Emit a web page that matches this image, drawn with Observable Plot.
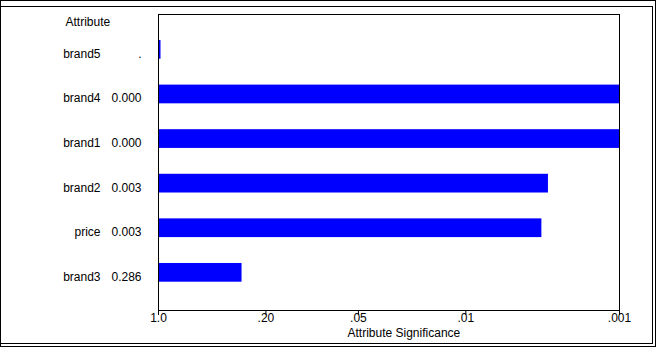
<!DOCTYPE html>
<html>
<head>
<meta charset="utf-8">
<script src="https://cdn.jsdelivr.net/npm/d3@7"></script>
<script src="https://cdn.jsdelivr.net/npm/@observablehq/plot@0.6"></script>
<style>
  body { margin: 0; background: white; }
  #wrap { position: relative; width: 656px; height: 347px; overflow: hidden; }
  .b1 { position: absolute; left: 0; top: 0; width: 656px; height: 347px; box-sizing: border-box; border: 1px solid black; pointer-events: none; }
  .b2 { position: absolute; left: 0; top: 6px; width: 653px; height: 338px; box-sizing: border-box; border: 1px solid black; pointer-events: none; }
</style>
</head>
<body>
<div id="wrap"><div class="b1"></div><div class="b2"></div></div>
<script>
const attributes = ["brand5", "brand4", "brand1", "brand2", "price", "brand3"];
const pValues = [null, 0.000, 0.000, 0.0029, 0.0032, 0.286];
const tickPValues = [1, 0.2, 0.05, 0.01, 0.001];
const tickLabels = ["1.0", ".20", ".05", ".01", ".001"];
const headerLabel = "Attribute";
const axisLabel = "Attribute Significance";

const sig = p => p == null ? null : Math.min(3, -Math.log10(Math.max(p, 1e-3)));
const rows = attributes.map((a, i) => ({
  attr: a,
  p: pValues[i],
  sig: sig(pValues[i]),
  label: pValues[i] == null ? "." : pValues[i].toFixed(3)
}));
const tickPos = tickPValues.map(p => -Math.log10(p));
const font = "'Liberation Sans', Arial, sans-serif";

const chart = Plot.plot({
  width: 656,
  height: 347,
  marginLeft: 158,
  marginRight: 37,
  marginTop: 14,
  marginBottom: 37,
  style: { fontFamily: font, fontSize: "12px", background: "transparent", color: "black" },
  x: { domain: [0, 3], ticks: tickPos, tickFormat: (d, i) => tickLabels[i] },
  y: { domain: attributes, paddingInner: 0.58, paddingOuter: 0, insetTop: 26, insetBottom: 28.3, round: false, axis: null },
  marks: [
    Plot.barX(rows.filter(d => d.sig != null), { x1: d => 0, x2: "sig", y: "attr", fill: "#0000ff" }),
    Plot.tickX(rows.filter(d => d.sig == null), { x: d => 0, y: "attr", stroke: "#0000ff", strokeWidth: 2, dx: 1 }),
    Plot.frame({ stroke: "black" }),
    Plot.axisX({ ticks: tickPos, tickFormat: (d, i) => tickLabels[i], tickSize: 5, tickPadding: -2.5, label: null, fontSize: 12 }),
    Plot.text(rows, { y: "attr", text: "attr", frameAnchor: "left", dx: -58, dy: 8, textAnchor: "end", lineAnchor: "bottom", fontSize: 12 }),
    Plot.text(rows, { y: "attr", text: "label", frameAnchor: "left", dx: -17, dy: 8, textAnchor: "end", lineAnchor: "bottom", fontSize: 12 }),
    Plot.text([headerLabel], { text: d => d, frameAnchor: "top-left", dx: -93, dy: 11, textAnchor: "start", lineAnchor: "bottom", fontSize: 12 }),
    Plot.text([axisLabel], { text: d => d, frameAnchor: "bottom-left", dx: 189, dy: 26, textAnchor: "start", lineAnchor: "bottom", fontSize: 12 })
  ]
});
document.getElementById("wrap").prepend(chart);
</script>
</body>
</html>
